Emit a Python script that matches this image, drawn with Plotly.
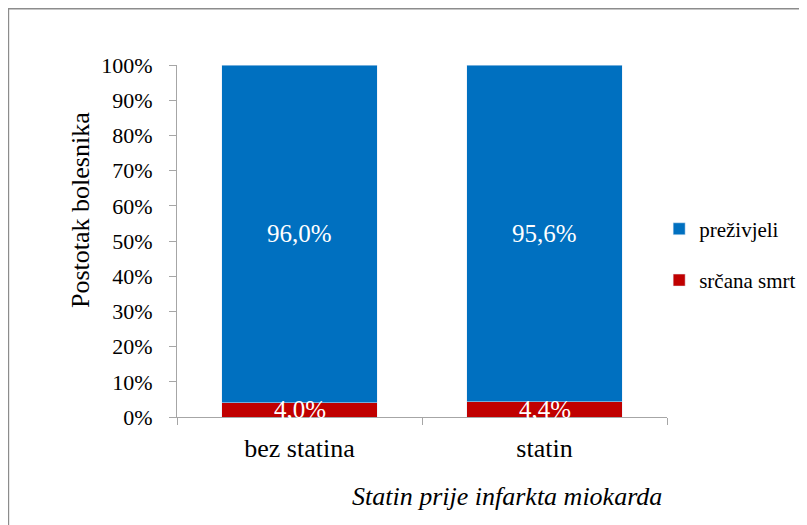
import plotly.graph_objects as go

categories = ["bez statina", "statin"]
smrt = [4.0, 4.4]
prezivjeli = [96.0, 95.6]

blue = "#0070C0"
red = "#C00000"
font = "'Times New Roman', 'Liberation Serif', 'DejaVu Serif', serif"

fig = go.Figure()
fig.add_trace(go.Bar(x=categories, y=smrt, name="srčana smrt",
                     marker_color=red, legendgroup="b", legendrank=2))
fig.add_trace(go.Bar(x=categories, y=prezivjeli, name="preživjeli",
                     marker_color=blue, legendgroup="a", legendrank=1))

# data labels, centred in each segment
for i, c in enumerate(categories):
    for base, val in [(0, smrt[i]), (smrt[i], prezivjeli[i])]:
        fig.add_annotation(x=c, y=base + val / 2, text=f"{val:.1f}%".replace(".", ","),
                           showarrow=False, font=dict(color="white", size=25, family=font))

fig.add_annotation(text="Postotak bolesnika", xref="paper", yref="paper",
                   x=-0.198, y=0.588, xanchor="center", yanchor="middle",
                   textangle=-90, showarrow=False,
                   font=dict(size=26, color="black", family=font))
fig.add_annotation(text="<i>Statin prije infarkta miokarda</i>", xref="paper", yref="paper",
                   x=0.673, y=-0.227, xanchor="center", yanchor="middle", showarrow=False,
                   font=dict(size=26, color="black", family=font))

# outer chart frame (right and bottom edges fall outside the picture)
fig.add_shape(type="rect", xref="paper", yref="paper",
              x0=-0.344, x1=1.5, y0=-0.5, y1=1.160,
              line=dict(color="#8C8C8C", width=1.5))

fig.update_layout(
    barmode="stack",
    bargap=0.367,
    width=807, height=525,
    margin=dict(l=169, r=148, t=57, b=116),
    plot_bgcolor="white", paper_bgcolor="white",
    font=dict(family=font, color="black"),
    showlegend=True,
    legend=dict(x=0.984, y=0.592, xanchor="left", yanchor="top",
                traceorder="grouped", tracegroupgap=21,
                font=dict(size=21, family=font), itemwidth=30),
    xaxis=dict(showline=True, linecolor="#A6A6A6", ticks="outside", tickson="boundaries",
               ticklen=7, tickcolor="#A6A6A6", tickfont=dict(size=26, family=font),
               ticklabelstandoff=8),
    yaxis=dict(range=[0, 100], dtick=10, ticksuffix="%", showgrid=False,
               showline=True, linecolor="#A6A6A6", ticks="outside", ticklen=7,
               tickcolor="#A6A6A6", tickfont=dict(size=22, family=font),
               ticklabelstandoff=12, zeroline=False),
)

fig.write_html("out.html")
